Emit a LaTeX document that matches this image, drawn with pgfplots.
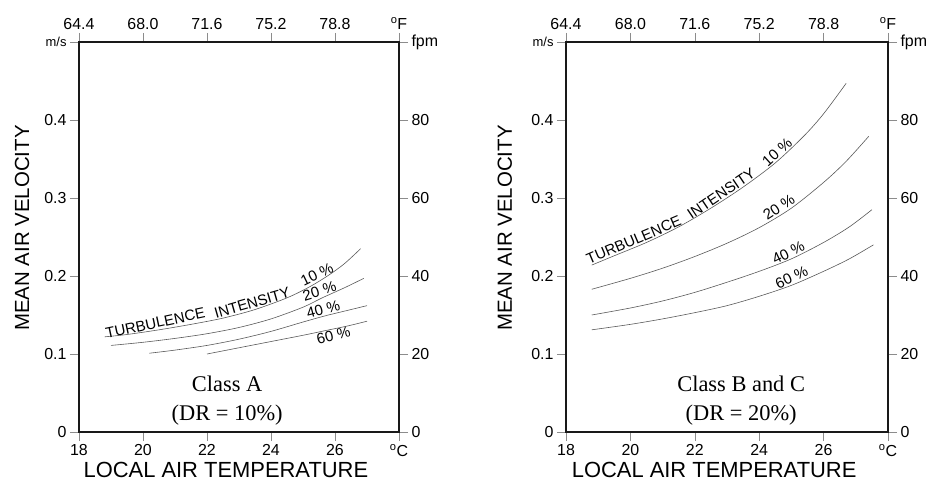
\documentclass[border=0pt]{standalone}
\usepackage{fontspec}
\setmainfont{Liberation Sans}
\newfontfamily\serifA{Liberation Serif}
\usepackage{pgfplots}
\pgfplotsset{compat=1.18}

\newcommand\lab{\fontsize{15}{16}\selectfont}
\newcommand\cls{\serifA\fontsize{22.5}{29}\selectfont}

\pgfplotsset{
  panel/.style={scale only axis, width=320bp, height=390bp,
    xmin=18, xmax=28, clip=false,
    tick align=outside, major tick length=9bp,
    tick style={black!45, line width=0.6bp},
    tick label style={font=\fontsize{16}{18}\selectfont}},
  front/.style={panel, ymin=0, ymax=0.5,
    axis line style={line width=1.8bp, black!90},
    xtick={18,20,22,24,26,28},
    xticklabels={18,20,22,24,26,\textsuperscript{o}C},
    ytick={0,0.1,0.2,0.3,0.4,0.5},
    yticklabels={0,0.1,0.2,0.3,0.4,{\fontsize{13}{13}\selectfont m/s}},
    xtick pos=bottom, ytick pos=left,
    xlabel={LOCAL AIR TEMPERATURE}, ylabel={MEAN AIR VELOCITY},
    xlabel style={font=\fontsize{22}{24}\selectfont,
      at={(axis description cs:0.459,-0.097)}, anchor=center},
    ylabel style={font=\fontsize{20.5}{22}\selectfont,
      at={(axis description cs:-0.178,0.523)}, anchor=center}},
  back/.style={panel, ymin=0, ymax=100, axis line style={draw=none},
    xtick={18,20,22,24,26,28},
    xticklabels={64.4,68.0,71.6,75.2,78.8,\textsuperscript{o}F},
    ytick={0,20,40,60,80,100},
    yticklabels={0,20,40,60,80,fpm},
    xtick pos=top, xticklabel pos=top, ytick pos=right, yticklabel pos=right},
}
\tikzset{
  curve/.style={smooth, black!65, line width=0.6bp},
  on/.style={font=\lab, inner sep=1.5bp},
}

\begin{document}
\begin{tikzpicture}
\path[use as bounding box] (-79bp,-58bp) rectangle (857bp,432bp);

% Class A
\begin{axis}[back, at={(0,0)}]
\end{axis}
\begin{axis}[front, at={(0,0)}]
  \addplot[curve] coordinates {(18.8,0.122) (19.5,0.125) (20.5,0.131) (21.5,0.138)
    (22.5,0.146) (23.5,0.157) (24.5,0.172) (25.2,0.186) (25.8,0.201) (26.3,0.216) (26.8,0.235)};
  \addplot[curve] coordinates {(19.0,0.111) (20,0.115) (21,0.120) (22,0.126) (23,0.134)
    (24,0.145) (25,0.160) (25.6,0.172) (26.3,0.185) (26.9,0.197)};
  \addplot[curve] coordinates {(20.2,0.101) (21,0.105) (22,0.111) (23,0.119) (24,0.129)
    (25,0.141) (25.7,0.149) (26.4,0.156) (27,0.162)};
  \addplot[curve] coordinates {(22.0,0.100) (23,0.108) (24,0.116) (25,0.124) (25.7,0.130)
    (26.4,0.136) (27,0.142)};
  \node[on, rotate=12, anchor=south] at (axis cs:20.43,0.131) {TURBULENCE};
  \node[on, rotate=16, anchor=south] at (axis cs:23.47,0.157) {INTENSITY};
  \node[on, rotate=26, anchor=south] at (axis cs:25.53,0.194) {10 \%};
  \node[on, rotate=17, anchor=south] at (axis cs:25.58,0.172) {20 \%};
  \node[on, rotate=15, anchor=south] at (axis cs:25.69,0.149) {40 \%};
  \node[on, rotate=14, anchor=north] at (axis cs:25.90,0.132) {60 \%};
  \node[font=\cls, align=center] at (axis cs:22.63,0.040) {Class A\\(DR = 10\%)};
\end{axis}

% Class B and C
\begin{axis}[back, at={(487bp,0)}, width=322bp]
\end{axis}
\begin{axis}[front, at={(487bp,0)}, width=322bp,
    ylabel style={at={(axis description cs:-0.19,0.523)}},
    xlabel style={at={(axis description cs:0.46,-0.097)}}]
  \addplot[curve] coordinates {(18.8,0.214) (19.5,0.226) (20.5,0.243) (21.5,0.263)
    (22.5,0.287) (23.5,0.314) (24.5,0.345) (25.4,0.380) (26.0,0.408) (26.7,0.447)};
  \addplot[curve] coordinates {(18.8,0.183) (20,0.197) (21,0.210) (22,0.225) (23,0.242)
    (24,0.262) (25,0.287) (26,0.320) (26.7,0.347) (27.4,0.379)};
  \addplot[curve] coordinates {(18.8,0.150) (20,0.159) (21,0.168) (22,0.179) (23,0.192)
    (24,0.206) (25,0.222) (26,0.243) (26.8,0.263) (27.5,0.285)};
  \addplot[curve] coordinates {(18.8,0.131) (20,0.138) (21,0.145) (22,0.153) (23,0.162)
    (24,0.174) (25,0.188) (26,0.206) (26.8,0.222) (27.55,0.240)};
  \node[on, rotate=23, anchor=south] at (axis cs:20.19,0.238) {TURBULENCE};
  \node[on, rotate=34, anchor=south] at (axis cs:22.94,0.298) {INTENSITY};
  \node[on, rotate=42, anchor=south] at (axis cs:24.70,0.352) {10 \%};
  \node[on, rotate=33, anchor=south] at (axis cs:24.73,0.281) {20 \%};
  \node[on, rotate=26, anchor=south] at (axis cs:25.00,0.222) {40 \%};
  \node[on, rotate=25, anchor=south] at (axis cs:25.10,0.190) {60 \%};
  \node[font=\cls, align=center] at (axis cs:23.44,0.040) {Class B and C\\(DR = 20\%)};
\end{axis}
\end{tikzpicture}
\end{document}
